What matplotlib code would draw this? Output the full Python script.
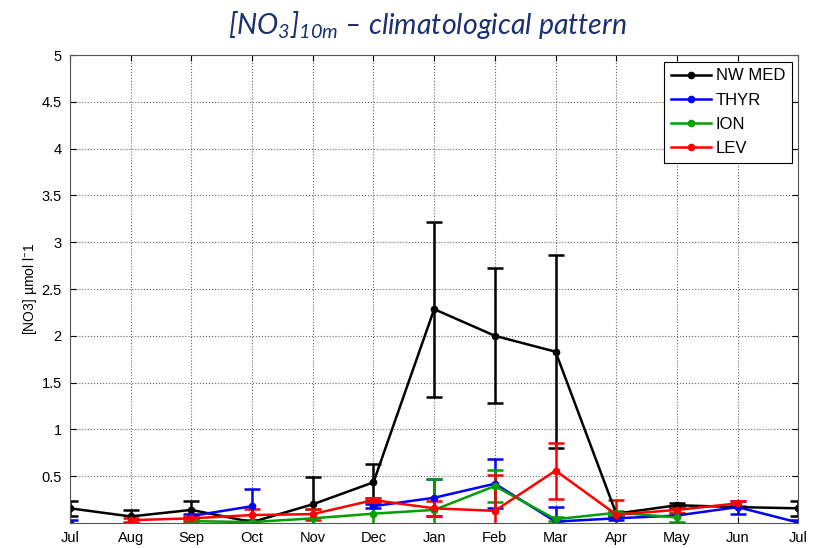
import numpy as np
import matplotlib.pyplot as plt
from matplotlib.lines import Line2D

plt.rcParams['font.family'] = ['Liberation Sans', 'DejaVu Sans']
plt.rcParams['mathtext.fontset'] = 'custom'
plt.rcParams['mathtext.rm'] = 'Lato:italic'
plt.rcParams['mathtext.it'] = 'Lato:italic'

nan = np.nan
months = ['Jul', 'Aug', 'Sep', 'Oct', 'Nov', 'Dec', 'Jan', 'Feb', 'Mar', 'Apr', 'May', 'Jun', 'Jul']

# monthly means and error bars per basin (umol/l)
nwmed = [0.157, 0.07, 0.14, 0.01, 0.20, 0.435, 2.285, 2.00, 1.83, 0.10, 0.19, 0.17, 0.157]
nwmed_err = [0.08, 0.07, 0.09, 0.02, 0.29, 0.20, 0.935, 0.72, 1.03, 0.02, 0.02, 0.0, 0.08]

thyr = [0.0, nan, 0.075, 0.18, nan, 0.18, 0.27, 0.42, 0.015, 0.05, 0.08, 0.17, 0.005]
thyr_err = [0.03, nan, 0.02, 0.18, nan, 0.02, 0.20, 0.26, 0.16, 0.02, 0.08, 0.07, 0.03]

ion = [nan, nan, 0.02, 0.01, 0.05, 0.10, 0.14, 0.395, 0.04, 0.11, 0.06, nan, nan]
ion_err = [nan, nan, 0.02, 0.02, 0.10, 0.17, 0.33, 0.17, 0.02, 0.02, 0.05, nan, nan]

lev = [nan, 0.03, 0.05, 0.085, 0.095, 0.245, 0.157, 0.13, 0.56, 0.09, 0.14, 0.21, nan]
lev_err = [nan, 0.02, 0.03, 0.06, 0.06, 0.02, 0.08, 0.38, 0.30, 0.16, 0.03, 0.03, nan]

series = [
    ('NW MED', nwmed, nwmed_err, 'black'),
    ('THYR', thyr, thyr_err, '#0000ff'),
    ('ION', ion, ion_err, '#00a000'),
    ('LEV', lev, lev_err, '#ff0000'),
]

x = np.arange(1, len(months) + 1)

fig = plt.figure(figsize=(8.22, 5.48), dpi=100)
ax = fig.add_axes([0.0852, 0.0456, 0.886, 0.854])

handles = []
for name, vals, errs, col in series:
    ax.errorbar(x, vals, yerr=errs, color=col, lw=1.8, marker='.', ms=9,
                capsize=6, capthick=1.8, elinewidth=1.8)
    handles.append(Line2D([], [], color=col, lw=1.8, marker='.', ms=9, label=name))

ax.set_xlim(1, 13)
ax.set_ylim(0, 5)
ax.set_xticks(x)
ax.set_xticklabels(months)
ax.set_yticks(np.arange(0.5, 5.01, 0.5))
ax.set_yticklabels(['0.5', '1', '1.5', '2', '2.5', '3', '3.5', '4', '4.5', '5'])
ax.tick_params(direction='in', top=True, right=True, labelsize=10.5, length=4, pad=6)
ax.grid(True, linestyle=':', color='black', lw=0.8, alpha=0.6)
for s in ax.spines.values():
    s.set_color('#555555')

ax.set_ylabel('[NO3] µmol l$^{-}$1', fontsize=10, labelpad=2)

leg = ax.legend(handles=handles, loc='upper right', fontsize=12, fancybox=False,
                framealpha=1, edgecolor='black', handlelength=2.4, handletextpad=0.3,
                labelspacing=0.55, borderaxespad=0.4)
leg.get_frame().set_linewidth(0.8)

fig.suptitle(r'$[NO_3]_{10m}$ – climatological pattern', x=0.52, y=0.983,
             fontsize=20.5, color='#1a3070', style='italic', family='Lato')

fig.savefig('out.png', dpi=100)
